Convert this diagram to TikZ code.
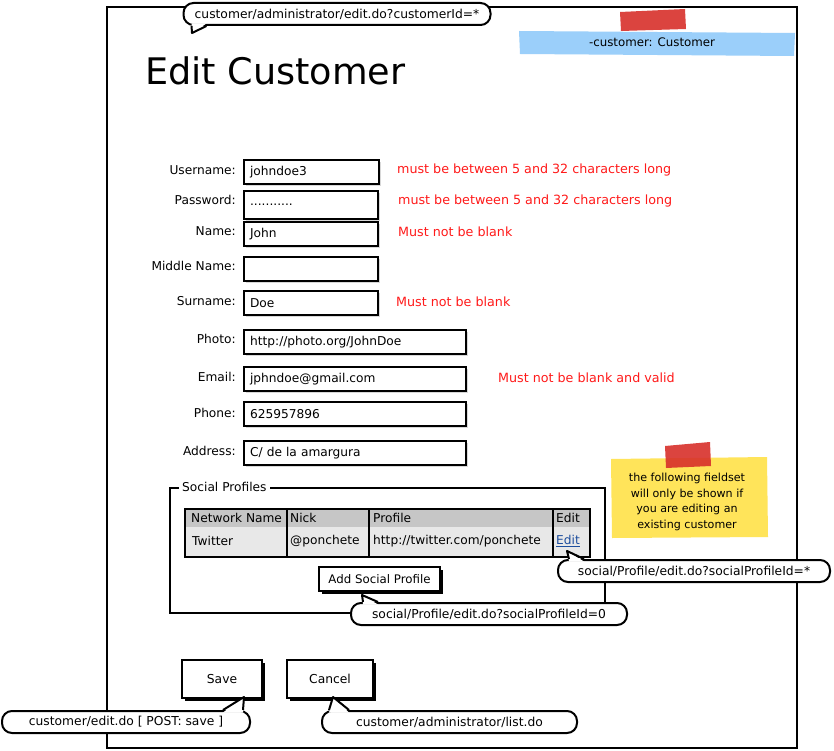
\documentclass[tikz,border=0pt]{standalone}
\usepackage{fontspec}
\setmainfont{DejaVu Sans}
\usetikzlibrary{calc,shadows,positioning}
\definecolor{errred}{HTML}{FF1A1A}
\definecolor{skyblue}{HTML}{9BCFFA}
\definecolor{tapered}{HTML}{D8302B}
\definecolor{noteyel}{HTML}{FFE45A}
\definecolor{hdrgray}{HTML}{C6C6C6}
\definecolor{rowgray}{HTML}{E8E8E8}
\definecolor{linkblue}{HTML}{1E4E9E}
\begin{document}
\begin{tikzpicture}[x=1pt,y=-1pt,
  f12/.style={font=\fontsize{12.2}{14}\selectfont},
  fb/.style={font=\fontsize{12.3}{14}\selectfont},
  lbl/.style={f12, anchor=east, inner sep=0},
  field/.style={draw, line width=2.2, fill=white, anchor=north west, minimum height=24,
    inner xsep=6, inner ysep=2, align=left, f12,
    drop shadow={shadow xshift=1.5pt, shadow yshift=-1.5pt, opacity=0.3}},
  err/.style={font=\fontsize{12.7}{14}\selectfont, text=errred, anchor=west, inner sep=0},
  btn/.style={draw, line width=2.2, fill=white, font=\fontsize{11.8}{13}\selectfont,
    drop shadow={shadow xshift=2.5pt, shadow yshift=-2.5pt, opacity=1, fill=black}},
  bubble/.style={draw, line width=2, fill=white, rounded corners=10, minimum height=22,
    inner sep=0, fb},
  tail/.style={line width=2, line join=round},
  cell/.style={f12, anchor=west, inner sep=0},
  frameline/.style={line width=2.3},
]
\useasboundingbox (0,0) rectangle (834,751);
\fill[white] (0,0) rectangle (834,751);

% main window
\draw[frameline] (107,7) rectangle (797,748);

% blue sticky
\fill[skyblue] (519,31) -- (795,33) -- (794,56) -- (520,54) -- cycle;
\fill[tapered, opacity=0.9] (620,12) -- (685,9) -- (686,29) -- (621,31) -- cycle;
\node[font=\fontsize{11.8}{13}\selectfont, inner sep=0] (cls) at (652,42) {-customer: Customer};

% title
\node[anchor=base west, inner sep=0, font=\fontsize{36.6}{40}\selectfont] (title) at (145,85) {Edit Customer};

% fields
\node[field, text width=123] (user) at (243,159) {johndoe3};
\node[field, text width=122, minimum height=28] (pass) at (243,190) {...........};
\node[field, text width=122] (name) at (243,221) {John};
\node[field, text width=122] (mid) at (243,256) {};
\node[field, text width=122] (sur) at (243,290) {Doe};
\node[field, text width=210] (photo) at (243,329) {http://photo.org/JohnDoe};
\node[field, text width=210] (email) at (243,366) {jphndoe@gmail.com};
\node[field, text width=210] (phone) at (243,401) {625957896};
\node[field, text width=210] (addr) at (243,440) {C/ de la amargura};

% labels
\node[lbl] (luser) at (236,170) {Username:};
\node[lbl] (lpass) at (236,200) {Password:};
\node[lbl] (lname) at (236,231) {Name:};
\node[lbl] (lmid) at (236,266) {Middle Name:};
\node[lbl] (lsur) at (236,301) {Surname:};
\node[lbl] (lphoto) at (236,339) {Photo:};
\node[lbl] (lemail) at (236,377) {Email:};
\node[lbl] (lphone) at (236,413) {Phone:};
\node[lbl] (laddr) at (236,451) {Address:};

% error messages
\node[err] (e1) at (397,170) {must be between 5 and 32 characters long};
\node[err] (e2) at (398,201) {must be between 5 and 32 characters long};
\node[err] (e3) at (398,232) {Must not be blank};
\node[err] (e4) at (396,302) {Must not be blank};
\node[err] (e5) at (498,378) {Must not be blank and valid};

% yellow sticky
\fill[noteyel] (611,459) -- (767,457) -- (768,537) -- (612,538) -- cycle;
\fill[tapered, opacity=0.9] (665,446) -- (710,442) -- (711,466) -- (666,468) -- cycle;
\node[align=center, inner sep=0, font=\fontsize{11.1}{15.7}\selectfont] (note) at (687,502)
  {the following fieldset\\will only be shown if\\you are editing an\\existing customer};

% fieldset
\draw[frameline] (170,488) rectangle (605,613);
\node[f12, anchor=west, fill=white, inner xsep=3, inner ysep=1] (legend) at (179,487) {Social Profiles};

% table
\fill[hdrgray] (185,509) rectangle (590,527);
\fill[rowgray] (185,527) rectangle (590,557);
\draw[line width=2] (287,509) -- (287,557) (369,509) -- (369,557) (553,509) -- (553,557);
\draw[line width=2.8] (185,509) rectangle (590,557);
\node[cell] (h1) at (191,518) {Network Name};
\node[cell] (h2) at (290,518) {Nick};
\node[cell] (h3) at (373,518) {Profile};
\node[cell] (h4) at (556,518) {Edit};
\node[cell] (c1) at (192,541) {Twitter};
\node[cell] (c2) at (290,541) {@ponchete};
\node[cell] (c3) at (373,541) {http://twitter.com/ponchete};
\node[cell, text=linkblue] (c4) at (556,541) {\underline{Edit}};

% buttons
\node[btn, minimum width=121, minimum height=24] (add) at (379.5,579) {Add Social Profile};
\node[btn, minimum width=80, minimum height=38, font=\fontsize{12.3}{14}\selectfont] (save) at (222,679) {Save};
\node[btn, minimum width=86, minimum height=38, font=\fontsize{12.3}{14}\selectfont] (cancel) at (330,679) {Cancel};

% bubbles
\node[bubble, minimum width=307] (b1) at (337,14) {customer/administrator/edit.do?customerId=*};
\coordinate (t1) at (192,33);
\fill[white] ($(b1.south west)+(9,-2.5)$) -- (t1) -- ($(b1.south west)+(24,-2.5)$) -- cycle;
\draw[tail] ($(b1.south west)+(9,0)$) -- (t1) -- ($(b1.south west)+(24,0)$);

\node[bubble, minimum width=272] (b2) at (694,571) {social/Profile/edit.do?socialProfileId=*};
\coordinate (t2) at (567,551);
\fill[white] ($(b2.north west)+(12,2.5)$) -- (t2) -- ($(b2.north west)+(27,2.5)$) -- cycle;
\draw[tail] ($(b2.north west)+(12,0)$) -- (t2) -- ($(b2.north west)+(27,0)$);

\node[bubble, minimum width=276] (b3) at (489,614) {social/Profile/edit.do?socialProfileId=0};
\coordinate (t3) at (362,595);
\fill[white] ($(b3.north west)+(13,2.5)$) -- (t3) -- ($(b3.north west)+(28,2.5)$) -- cycle;
\draw[tail] ($(b3.north west)+(13,0)$) -- (t3) -- ($(b3.north west)+(28,0)$);

\node[bubble, minimum width=248] (b4) at (126,722) {customer/edit.do [ POST: save ]};
\coordinate (t4) at (244,697);
\fill[white] ($(b4.north east)+(-28,2.5)$) -- (t4) -- ($(b4.north east)+(-8,2.5)$) -- cycle;
\draw[tail] ($(b4.north east)+(-28,0)$) -- (t4) -- ($(b4.north east)+(-8,0)$);

\node[bubble, minimum width=255] (b5) at (449.5,722) {customer/administrator/list.do};
\coordinate (t5) at (333,697);
\fill[white] ($(b5.north west)+(8,2.5)$) -- (t5) -- ($(b5.north west)+(28,2.5)$) -- cycle;
\draw[tail] ($(b5.north west)+(8,0)$) -- (t5) -- ($(b5.north west)+(28,0)$);
\end{tikzpicture}
\end{document}
